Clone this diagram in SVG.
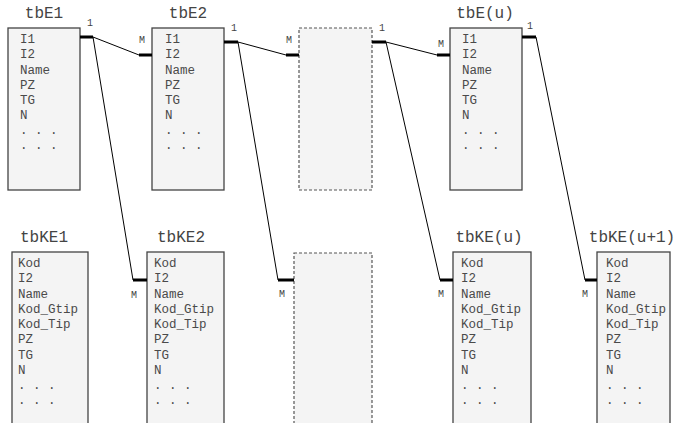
<svg xmlns="http://www.w3.org/2000/svg" width="674" height="423" viewBox="0 0 674 423">
<style>
.box{fill:#f4f4f4;stroke:#444;stroke-width:1.3}
.dbox{fill:#f4f4f4;stroke:#555;stroke-width:1.2;stroke-dasharray:3 2}
.title{font-family:"Courier New","Nimbus Mono PS","FreeMono","Liberation Mono",monospace;font-size:16px;fill:#444;text-anchor:middle}
.f{font-family:"Courier New","Nimbus Mono PS","FreeMono","Liberation Mono",monospace;font-size:12.5px;fill:#4a4a4a}
.lbl{font-family:"Courier New","Nimbus Mono PS","FreeMono","Liberation Mono",monospace;font-size:10px;fill:#444;text-anchor:middle}
.ln{stroke:#000;stroke-width:1;fill:none}
.stub{stroke:#000;stroke-width:3.2;fill:none}
</style>
<rect width="674" height="423" fill="#fff"/>
<g id="tbE1">
<rect class="box" x="8" y="28" width="72" height="162"/>
<text class="title" x="44" y="18">tbE1</text>
<text class="f" x="20" y="43">I1</text><text class="f" x="20" y="58">I2</text><text class="f" x="20" y="74">Name</text><text class="f" x="20" y="89">PZ</text><text class="f" x="20" y="104">TG</text><text class="f" x="20" y="119">N</text><text class="f" x="20" y="134">. . .</text><text class="f" x="20" y="149">. . .</text>
</g>
<g id="tbE2">
<rect class="box" x="152" y="28" width="72" height="162"/>
<text class="title" x="188" y="18">tbE2</text>
<text class="f" x="165" y="43">I1</text><text class="f" x="165" y="58">I2</text><text class="f" x="165" y="74">Name</text><text class="f" x="165" y="89">PZ</text><text class="f" x="165" y="104">TG</text><text class="f" x="165" y="119">N</text><text class="f" x="165" y="134">. . .</text><text class="f" x="165" y="149">. . .</text>
</g>
<g id="dashed1">
<rect class="dbox" x="299" y="28" width="73" height="162"/>
</g>
<g id="tbEu">
<rect class="box" x="450" y="28" width="72" height="162"/>
<text class="title" x="485" y="18">tbE(u)</text>
<text class="f" x="462" y="43">I1</text><text class="f" x="462" y="58">I2</text><text class="f" x="462" y="74">Name</text><text class="f" x="462" y="89">PZ</text><text class="f" x="462" y="104">TG</text><text class="f" x="462" y="119">N</text><text class="f" x="462" y="134">. . .</text><text class="f" x="462" y="149">. . .</text>
</g>
<g id="tbKE1">
<rect class="box" x="12" y="252" width="76" height="180"/>
<text class="title" x="44" y="242">tbKE1</text>
<text class="f" x="18" y="267">Kod</text><text class="f" x="18" y="282">I2</text><text class="f" x="18" y="298">Name</text><text class="f" x="18" y="313">Kod_Gtip</text><text class="f" x="18" y="328">Kod_Tip</text><text class="f" x="18" y="343">PZ</text><text class="f" x="18" y="359">TG</text><text class="f" x="18" y="374">N</text><text class="f" x="18" y="389">. . .</text><text class="f" x="18" y="404">. . .</text>
</g>
<g id="tbKE2">
<rect class="box" x="147" y="252" width="77" height="180"/>
<text class="title" x="181" y="242">tbKE2</text>
<text class="f" x="154" y="267">Kod</text><text class="f" x="154" y="282">I2</text><text class="f" x="154" y="298">Name</text><text class="f" x="154" y="313">Kod_Gtip</text><text class="f" x="154" y="328">Kod_Tip</text><text class="f" x="154" y="343">PZ</text><text class="f" x="154" y="359">TG</text><text class="f" x="154" y="374">N</text><text class="f" x="154" y="389">. . .</text><text class="f" x="154" y="404">. . .</text>
</g>
<g id="dashed2">
<rect class="dbox" x="294" y="253" width="78" height="180"/>
</g>
<g id="tbKEu">
<rect class="box" x="453" y="252" width="78" height="180"/>
<text class="title" x="489" y="242">tbKE(u)</text>
<text class="f" x="461" y="267">Kod</text><text class="f" x="461" y="282">I2</text><text class="f" x="461" y="298">Name</text><text class="f" x="461" y="313">Kod_Gtip</text><text class="f" x="461" y="328">Kod_Tip</text><text class="f" x="461" y="343">PZ</text><text class="f" x="461" y="359">TG</text><text class="f" x="461" y="374">N</text><text class="f" x="461" y="389">. . .</text><text class="f" x="461" y="404">. . .</text>
</g>
<g id="tbKEu1">
<rect class="box" x="597" y="252" width="73" height="180"/>
<text class="title" x="632" y="242">tbKE(u+1)</text>
<text class="f" x="606" y="267">Kod</text><text class="f" x="606" y="282">I2</text><text class="f" x="606" y="298">Name</text><text class="f" x="606" y="313">Kod_Gtip</text><text class="f" x="606" y="328">Kod_Tip</text><text class="f" x="606" y="343">PZ</text><text class="f" x="606" y="359">TG</text><text class="f" x="606" y="374">N</text><text class="f" x="606" y="389">. . .</text><text class="f" x="606" y="404">. . .</text>
</g>
<g id="connectors">
<path class="ln" d="M93,37 L139,55 M93,37 L133,280 M238,42 L286,55 M238,42 L278,280 M386,42 L437,55 M386,42 L440,280 M536,37 L585,280"/>
<path class="stub" d="M80,37 H93 M139,55 H152 M224,42 H238 M286,55 H299 M372,42 H386 M437,55 H450 M522,37 H536 M133,280 H147 M278,280 H294 M440,280 H453 M585,280 H597"/>
<text class="lbl" x="90" y="26">1</text>
<text class="lbl" x="234" y="31">1</text>
<text class="lbl" x="382" y="31">1</text>
<text class="lbl" x="530" y="29">1</text>
<text class="lbl" x="142" y="43">M</text>
<text class="lbl" x="289" y="43">M</text>
<text class="lbl" x="441" y="47">M</text>
<text class="lbl" x="134" y="298">M</text>
<text class="lbl" x="282" y="297">M</text>
<text class="lbl" x="441" y="297">M</text>
<text class="lbl" x="585" y="297">M</text>
</g>
</svg>
